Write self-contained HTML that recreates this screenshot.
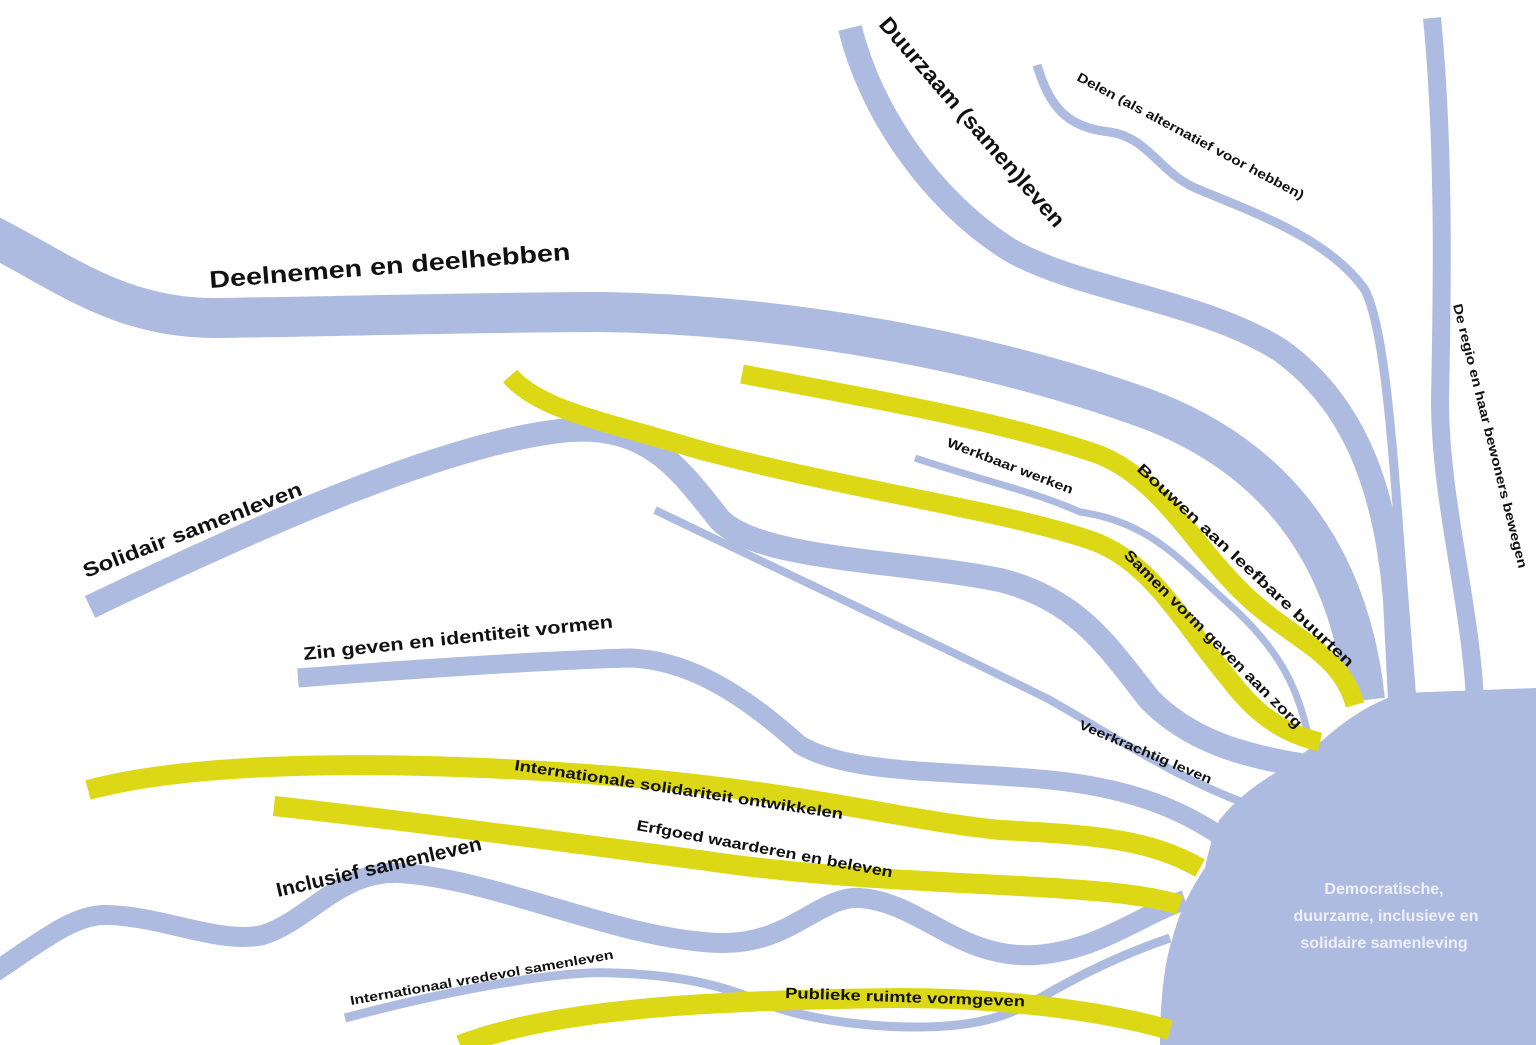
<!DOCTYPE html>
<html><head><meta charset="utf-8"><style>
html,body{margin:0;padding:0;background:#fff;}
svg{display:block;}
text{font-family:"Liberation Sans",sans-serif;fill:#111;font-weight:bold;}
</style></head><body>
<svg width="1536" height="1045" viewBox="0 0 1536 1045" xmlns="http://www.w3.org/2000/svg">
<g fill="none" stroke="#aebbe0" stroke-linecap="butt">
  <!-- Deelnemen -->
  <path d="M-10,235 C60,270 120,320 220,318 C350,316 500,312 600,312 C800,315 1000,355 1150,410 C1280,460 1350,560 1365,700" stroke-width="40"/>
  <!-- Duurzaam -->
  <path d="M850,28 C870,110 930,200 1010,250 C1080,290 1200,300 1280,350 C1350,400 1385,480 1395,600 L1400,700" stroke-width="24"/>
  <!-- Delen -->
  <path d="M1037,65 C1050,110 1070,128 1110,132 C1150,138 1160,175 1200,190 C1260,215 1330,240 1365,290 C1390,340 1395,500 1412,700" stroke-width="9"/>
  <!-- Right vertical -->
  <path d="M1432,18 C1445,150 1442,300 1440,400 C1440,500 1470,600 1475,700" stroke-width="18"/>
  <!-- Solidair -->
  <path d="M90,607 C250,530 450,440 570,430 C650,425 680,470 720,520 C760,560 900,560 1000,580 C1080,600 1110,650 1150,700 C1190,740 1240,755 1300,765" stroke-width="24"/>
  <!-- Zin geven -->
  <path d="M298,678 C400,670 550,660 630,658 C700,660 760,710 800,745 C850,775 950,770 1050,780 C1150,790 1200,820 1240,850" stroke-width="19"/>
  <!-- Veerkrachtig -->
  <path d="M655,510 C800,580 950,650 1050,700 C1120,740 1180,780 1250,805" stroke-width="8"/>
  <!-- Werkbaar -->
  <path d="M915,458 C980,480 1030,490 1080,512 C1150,522 1180,560 1230,605 C1280,650 1300,690 1310,745" stroke-width="7"/>
  <!-- Inclusief -->
  <path d="M-10,975 C30,950 70,915 104,915 C160,915 220,945 263,935 C310,920 340,870 400,873 C500,880 620,940 720,943 C790,945 820,895 860,898 C920,902 960,960 1036,955 C1100,950 1140,915 1185,900" stroke-width="20"/>
  <!-- Internationaal vredevol -->
  <path d="M345,1018 C450,990 560,970 614,973 C680,975 720,985 757,1000 C790,1015 850,1027 917,1027 C960,1027 1000,1022 1040,998 C1080,975 1120,955 1170,938" stroke-width="9"/>
</g>
<!-- blob -->
<path fill="#aebbe0" d="M1403,693 L1536,688 L1536,1045 L1160,1045 C1160,1000 1165,960 1172,940 C1180,910 1190,890 1205,868 C1210,845 1214,830 1222,815 L1218,822 C1235,800 1255,785 1280,770 C1300,755 1315,745 1323,740 C1345,720 1375,700 1403,693 Z"/>
<g fill="none" stroke="#ddd815" stroke-width="19" stroke-linecap="butt">
  <!-- Bouwen -->
  <path d="M742,374 C850,395 1000,420 1100,455 C1160,480 1190,540 1240,590 C1290,640 1340,650 1355,705"/>
  <!-- Samen vorm -->
  <path d="M510,376 C540,410 600,420 700,450 C850,490 1000,510 1090,540 C1150,560 1180,620 1230,680 C1260,720 1290,735 1320,742"/>
  <!-- Intl solidariteit -->
  <path d="M88,790 C200,760 400,760 600,775 C800,790 900,820 1000,830 C1100,835 1150,840 1200,868" stroke-width="20"/>
  <!-- Erfgoed -->
  <path d="M274,806 C400,820 550,840 700,860 C800,875 900,880 1000,885 C1100,890 1150,895 1180,905" stroke-width="20"/>
  <!-- Publieke -->
  <path d="M460,1045 C550,1010 700,1000 900,998 C1000,998 1100,1010 1170,1030" stroke-width="20"/>
</g>
<!-- labels -->
<text transform="translate(210,288) rotate(-4.5)" font-size="24" textLength="362" lengthAdjust="spacingAndGlyphs">Deelnemen en deelhebben</text>
<text transform="translate(878,25) rotate(49)" font-size="22" textLength="270" lengthAdjust="spacingAndGlyphs">Duurzaam (samen)leven</text>
<text transform="translate(1076,80) rotate(28)" font-size="13" textLength="255" lengthAdjust="spacingAndGlyphs">Delen (als alternatief voor hebben)</text>
<text transform="translate(1453,305) rotate(76)" font-size="13" textLength="272" lengthAdjust="spacingAndGlyphs">De regio en haar bewoners bewegen</text>
<text transform="translate(86,578) rotate(-21)" font-size="20" textLength="233" lengthAdjust="spacingAndGlyphs">Solidair samenleven</text>
<text transform="translate(304,660) rotate(-6)" font-size="18" textLength="311" lengthAdjust="spacingAndGlyphs">Zin geven en identiteit vormen</text>
<text transform="translate(946,446) rotate(21)" font-size="13" textLength="134" lengthAdjust="spacingAndGlyphs">Werkbaar werken</text>
<text transform="translate(1136,470) rotate(43)" font-size="15" textLength="290" lengthAdjust="spacingAndGlyphs">Bouwen aan leefbare buurten</text>
<text transform="translate(1123,556) rotate(45)" font-size="15" textLength="245" lengthAdjust="spacingAndGlyphs">Samen vorm geven aan zorg</text>
<text transform="translate(1078,728) rotate(23)" font-size="13" textLength="143" lengthAdjust="spacingAndGlyphs">Veerkrachtig leven</text>
<text transform="translate(514,770) rotate(8.5)" font-size="15" textLength="332" lengthAdjust="spacingAndGlyphs">Internationale solidariteit ontwikkelen</text>
<text transform="translate(636,830) rotate(10.5)" font-size="15" textLength="260" lengthAdjust="spacingAndGlyphs">Erfgoed waarderen en beleven</text>
<text transform="translate(278,897) rotate(-13)" font-size="20" textLength="210" lengthAdjust="spacingAndGlyphs">Inclusief samenleven</text>
<text transform="translate(351,1005) rotate(-10)" font-size="13" textLength="267" lengthAdjust="spacingAndGlyphs">Internationaal vredevol samenleven</text>
<text transform="translate(785,998) rotate(2)" font-size="15" textLength="240" lengthAdjust="spacingAndGlyphs">Publieke ruimte vormgeven</text>
<g font-size="16" text-anchor="middle" style="fill:#eef0f8">
  <text x="1384" y="894" style="fill:#eef0f8">Democratische,</text>
  <text x="1386" y="921" style="fill:#eef0f8">duurzame, inclusieve en</text>
  <text x="1384" y="948" style="fill:#eef0f8">solidaire samenleving</text>
</g>
</svg>
</body></html>
